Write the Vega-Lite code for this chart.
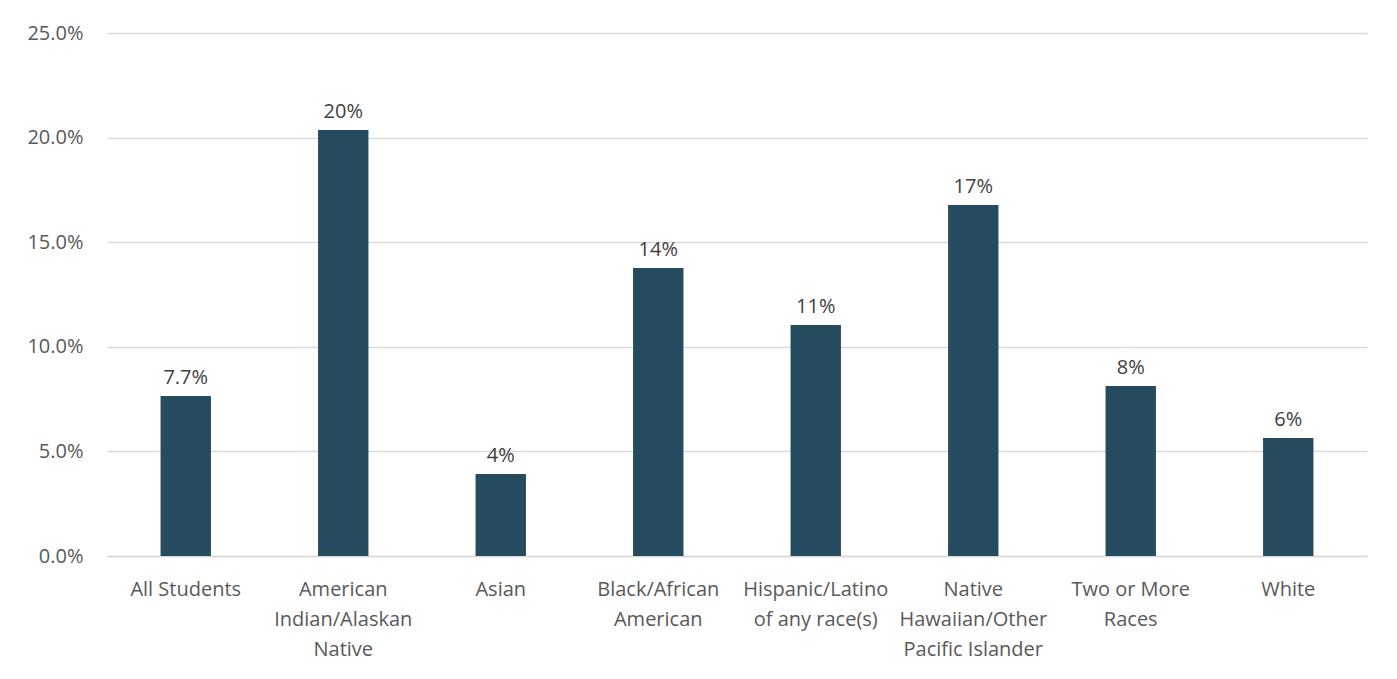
{
  "$schema": "https://vega.github.io/schema/vega-lite/v6.json",
  "width": 1260,
  "height": 523,
  "autosize": {"type": "none"},
  "padding": {"left": 107, "top": 33, "right": 30, "bottom": 123},
  "background": "white",
  "config": {
    "view": {"stroke": null},
    "font": "Open Sans",
    "axis": {"labelFont": "Open Sans", "labelFontSize": 20, "labelColor": "#595959", "gridColor": "#d9d9d9", "domainColor": "#d9d9d9"}
  },
  "data": {
    "values": [
      {"group": "All Students", "value": 0.0765, "label": "7.7%"},
      {"group": "American|Indian/Alaskan|Native", "value": 0.2036, "label": "20%"},
      {"group": "Asian", "value": 0.0392, "label": "4%"},
      {"group": "Black/African|American", "value": 0.1377, "label": "14%"},
      {"group": "Hispanic/Latino|of any race(s)", "value": 0.1104, "label": "11%"},
      {"group": "Native|Hawaiian/Other|Pacific Islander", "value": 0.1678, "label": "17%"},
      {"group": "Two or More|Races", "value": 0.0813, "label": "8%"},
      {"group": "White", "value": 0.0564, "label": "6%"}
    ]
  },
  "encoding": {
    "x": {
      "field": "group", "type": "nominal", "sort": null,
      "scale": {"paddingInner": 0.68, "paddingOuter": 0.34},
      "axis": {"title": null, "labelAngle": 0, "ticks": false, "domain": true, "domainWidth": 1.5, "labelPadding": 23, "labelLineHeight": 30, "labelExpr": "split(datum.label, '|')", "labelBaseline": "top"}
    },
    "y": {
      "field": "value", "type": "quantitative",
      "scale": {"domain": [0, 0.25]},
      "axis": {"title": null, "format": ".1%", "values": [0, 0.05, 0.1, 0.15, 0.2, 0.25], "domain": false, "ticks": false, "labelPadding": 24, "gridWidth": 1.5}
    }
  },
  "layer": [
    {"mark": {"type": "bar", "color": "#264b5f"}},
    {"mark": {"type": "text", "baseline": "bottom", "dy": -8, "fontSize": 20, "color": "#404040", "font": "Open Sans"},
     "encoding": {"text": {"field": "label"}}}
  ]
}
